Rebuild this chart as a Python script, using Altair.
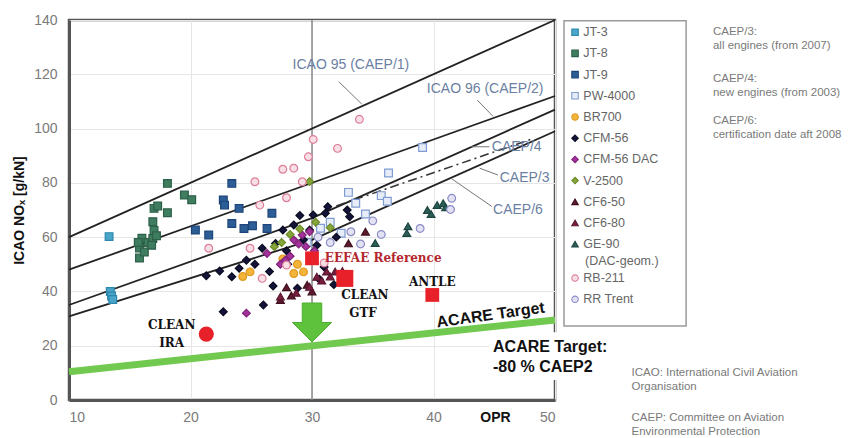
import altair as alt
import pandas as pd

# ---------------- data ----------------
engines = ["JT-3", "JT-8", "JT-9", "PW-4000", "BR700", "CFM-56", "CFM-56 DAC",
           "V-2500", "CF6-50", "CF6-80", "GE-90", "RB-211", "RR Trent"]
shapes = ["square", "square", "square", "square", "circle", "diamond", "diamond",
          "diamond", "triangle-up", "triangle-up", "triangle-up", "circle", "circle"]
fills = ["#4aa6c9", "#3f7d60", "#2d5d96", "#e6ecf8", "#f2b53a", "#14143a", "#a3339b",
         "#86a53a", "#5e1a2c", "#7b1f3e", "#2b5f58", "#f8dfe6", "#e2e2f4"]
strokes = ["#2f86ad", "#2d6048", "#1d4478", "#7f9bd1", "#e09a20", "#0a0a20", "#80207a",
           "#6a8a25", "#3e0f1c", "#5a1530", "#1d4540", "#dd7e98", "#8b8bc6"]
sizes = [60, 60, 60, 60, 55, 45, 45, 45, 45, 45, 45, 60, 60]

series = {
    "JT-3": ([13.3, 13.4, 13.5, 13.6], [60.2, 40.0, 38.3, 37.0]),
    "JT-8": ([18.1, 19.5, 20.1, 17.0, 17.3, 18.1, 16.9, 17.0, 16.0, 16.5, 15.8, 16.9, 15.8, 16.8, 16.2, 15.7, 17.2],
             [79.8, 75.5, 73.8, 70.6, 71.5, 69.0, 65.7, 62.5, 59.6, 58.0, 56.0, 59.5, 52.3, 57.0, 54.5, 58.0, 60.5]),
    "JT-9": ([23.4, 22.7, 22.8, 24.0, 26.7, 23.4, 24.4, 26.3, 20.4, 21.5, 25.1],
             [79.8, 73.7, 71.8, 70.6, 68.8, 65.0, 63.2, 63.2, 62.6, 60.8, 64.2]),
    "PW-4000": ([39.1, 36.3, 33.0, 35.7, 36.2, 32.4, 30.7, 31.5, 29.6, 34.4, 33.6],
                [93.0, 83.6, 76.5, 75.3, 73.2, 61.4, 63.3, 65.5, 58.0, 68.5, 72.5]),
    "BR700": ([24.3, 24.9, 28.5, 29.3, 28.8, 27.6], [45.5, 47.2, 46.6, 47.2, 50.0, 52.0]),
    "CFM-56": ([21.3, 22.4, 22.7, 23.4, 24.0, 24.6, 25.9, 26.0, 26.5, 27.0, 27.6, 28.5, 28.8, 29.0, 30.1,
                31.3, 31.1, 32.9, 33.1, 29.8, 25.3, 27.9, 29.3, 30.4, 31.8, 30.6, 32.0, 28.0, 26.8, 31.0],
               [45.8, 47.5, 32.5, 45.4, 48.5, 51.5, 55.9, 35.0, 47.3, 57.7, 62.6, 64.5, 41.2, 68.0, 68.2,
                71.2, 68.8, 70.0, 67.5, 62.6, 50.0, 55.0, 59.0, 57.0, 42.5, 44.5, 60.0, 50.0, 42.0, 49.0]),
    "CFM-56 DAC": ([24.6, 27.8, 28.5, 29.2, 28.2, 29.5, 27.4, 30.2, 26.3, 29.8, 28.9],
                   [32.0, 51.5, 59.0, 60.8, 53.0, 56.5, 50.0, 55.0, 54.0, 62.0, 57.5]),
    "V-2500": ([26.9, 29.8, 27.5, 29.0, 30.3, 28.2, 31.5], [56.5, 80.5, 58.0, 63.0, 65.5, 61.0, 63.5]),
    "CF6-50": ([34.4, 33.0, 27.4, 27.9, 29.6, 28.3, 30.0], [62.0, 57.7, 36.8, 41.5, 42.4, 38.5, 40.0]),
    "CF6-80": ([30.4, 31.2, 31.9, 27.4, 29.8, 30.8, 28.7, 31.5, 32.5], [45.4, 47.3, 47.3, 38.1, 41.7, 44.0, 39.5, 45.5, 47.5]),
    "GE-90": ([39.5, 40.3, 40.8, 39.8, 37.9, 37.8, 35.2, 41.0], [70.0, 71.8, 72.5, 68.5, 64.0, 61.5, 57.8, 71.0]),
    "RB-211": ([33.9, 30.1, 32.1, 29.7, 27.6, 28.5, 29.2, 25.3, 27.9, 25.7, 21.5, 24.9, 25.9, 27.9, 31.0],
               [103.4, 96.0, 92.7, 89.6, 85.0, 85.4, 80.4, 80.4, 74.5, 71.8, 55.9, 55.9, 44.8, 49.7, 50.5]),
    "RR Trent": ([41.5, 41.4, 38.9, 35.7, 34.0, 33.2, 31.5, 30.5, 35.0], [74.3, 70.2, 63.2, 61.0, 57.5, 62.0, 58.0, 60.0, 66.0]),
}

# regulatory limits (OPR, NOx)
std_names = ["CAEP/1", "CAEP/2", "CAEP/4", "CAEP/6"]
std_opr = [[10, 50], [10, 50], [10, 30, 50], [10, 30, 50]]
std_nox = [[60, 140], [48, 112], [35, 67, 107], [30.8, 59, 99]]
dash_opr = [32, 48]
dash_nox = [71.5, 96]
acare_opr = [10, 50]
acare_nox = [10.4, 29.5]

# technology programmes
red_names = ["CLEAN IRA", "EEFAE", "CLEAN GTF", "ANTLE"]
red_opr = [21.3, 30.0, 32.7, 39.9]
red_nox = [24.3, 52.2, 44.8, 38.7]

# annotation texts
line_lbl = ["ICAO 95 (CAEP/1)", "ICAO 96 (CAEP/2)", "CAEP/4", "CAEP/3", "CAEP/6"]
line_lbl_x = [28.4, 39.45, 44.8, 45.45, 44.9]
line_lbl_y = [123.4, 114.6, 93.2, 81.8, 70.0]
lead_x1 = [32.2, 43.6, 43.1, 43.8, 41.5]
lead_y1 = [117.3, 110.5, 93.3, 85.4, 81.5]
lead_x2 = [34.1, 44.9, 44.6, 45.3, 44.8]
lead_y2 = [109.0, 104.5, 93.3, 82.9, 71.3]

prog_lbl = ["CLEAN", "IRA", "CLEAN", "GTF", "ANTLE"]
prog_x = [18.45, 18.45, 34.35, 34.2, 39.9]
prog_y = [27.6, 20.9, 38.7, 31.9, 43.6]

notes_r = ["CAEP/3:", "all engines (from 2007)", "CAEP/4:", "new engines (from 2003)",
           "CAEP/6:", "certification date aft 2008"]
notes_r_y = [135.6, 130.5, 118.3, 113.1, 102.8, 97.6]
notes_b = ["ICAO: International Civil Aviation", "Organisation",
           "CAEP: Committee on Aviation", "Environmental Protection"]
notes_b_y = [9.9, 4.8, -6.7, -11.8]

# ---------------- frames ----------------
pts = pd.DataFrame([(e, x, y) for e, (xs_, ys_) in series.items() for x, y in zip(xs_, ys_)],
                   columns=["engine", "opr", "nox"])
lines = pd.DataFrame([(n, x, y) for n, xl, yl in zip(std_names, std_opr, std_nox) for x, y in zip(xl, yl)],
                     columns=["std", "opr", "nox"])
dash = pd.DataFrame({"opr": dash_opr, "nox": dash_nox})
acare = pd.DataFrame({"opr": acare_opr, "nox": acare_nox})
red = pd.DataFrame({"name": red_names, "opr": red_opr, "nox": red_nox})
lbl = pd.DataFrame({"t": line_lbl, "opr": line_lbl_x, "nox": line_lbl_y})
lead = pd.DataFrame({"x1": lead_x1, "y1": lead_y1, "x2": lead_x2, "y2": lead_y2})
prog = pd.DataFrame({"t": prog_lbl, "opr": prog_x, "nox": prog_y})

leg = pd.DataFrame({"engine": engines})
leg["slot"] = [i + (0.6 if i > 10 else 0.0) for i in range(len(engines))]
leg["label"] = engines

# ---------------- scales / axes ----------------
xs = alt.Scale(domain=[10, 50], nice=False, zero=False)
ys = alt.Scale(domain=[0, 140], nice=False, zero=False)
xaxis = alt.Axis(values=[10, 20, 30, 40, 50], title=None, ticks=False, labelPadding=10,
                 labelFontSize=14, labelColor="#7a7a7a", labelFont="Liberation Sans",
                 domainColor="#555", domainWidth=3, gridColor="#e6e6e6", gridWidth=1)
yaxis = alt.Axis(values=list(range(0, 141, 20)), title="ICAO NOₓ  [g/kN]", ticks=False,
                 labelPadding=12, labelFontSize=14, labelColor="#7a7a7a", labelFont="Liberation Sans",
                 titleFont="Liberation Sans", titleFontSize=14, titleFontWeight="bold",
                 titleColor="#111", titlePadding=7, domainColor="#555", domainWidth=3,
                 gridColor="#e6e6e6", gridWidth=1)


def X(f):
    return alt.X(f, type="quantitative", scale=xs, axis=xaxis)


def Y(f):
    return alt.Y(f, type="quantitative", scale=ys, axis=yaxis)


shape_enc = alt.Shape("engine:N", scale=alt.Scale(domain=engines, range=shapes), legend=None)
fill_enc = alt.Fill("engine:N", scale=alt.Scale(domain=engines, range=fills), legend=None)
stroke_enc = alt.Stroke("engine:N", scale=alt.Scale(domain=engines, range=strokes), legend=None)

# ---------------- layers ----------------
rule30 = alt.Chart(pd.DataFrame({"v": [30]})).mark_rule(color="#8a8a8a", strokeWidth=1.5).encode(x=X("v"))

std_lines = alt.Chart(lines).mark_line(color="#222", strokeWidth=1.8).encode(
    x=X("opr"), y=Y("nox"), detail="std:N")
dash_line = alt.Chart(dash).mark_line(color="#333", strokeWidth=1.5, strokeDash=[9, 4, 2, 4]).encode(
    x=X("opr"), y=Y("nox"))
leaders = alt.Chart(lead).mark_rule(color="#777", strokeWidth=1).encode(
    x=X("x1"), y=Y("y1"), x2="x2", y2="y2")
acare_line = alt.Chart(acare).mark_line(color="#72c94f", strokeWidth=7).encode(x=X("opr"), y=Y("nox"))

points = alt.Chart(pts).mark_point(filled=True, strokeWidth=1.2, opacity=1).encode(
    x=X("opr"), y=Y("nox"), shape=shape_enc, fill=fill_enc, stroke=stroke_enc,
    size=alt.Size("engine:N", scale=alt.Scale(domain=engines, range=sizes), legend=None))

red_circ = alt.Chart(red).transform_filter("datum.name == 'CLEAN IRA'").mark_point(
    shape="circle", filled=True, color="#e8202a", size=230, opacity=1).encode(x=X("opr"), y=Y("nox"))
red_sq = alt.Chart(red).transform_filter("datum.name == 'EEFAE' || datum.name == 'ANTLE'").mark_point(
    shape="square", filled=True, color="#e8202a", size=190, opacity=1).encode(x=X("opr"), y=Y("nox"))
red_gtf = alt.Chart(red).transform_filter("datum.name == 'CLEAN GTF'").mark_point(
    shape="square", filled=True, color="#e8202a", size=290, opacity=1).encode(x=X("opr"), y=Y("nox"))

arrow_path = "M -0.5 -1 L 0.5 -1 L 0.5 0 L 1 0 L 0 1 L -1 0 L -0.5 0 Z"
arrow = alt.Chart(pd.DataFrame({"opr": [30], "nox": [28.55]})).mark_point(
    shape=arrow_path, filled=True, fill="#5fc23c", stroke="#4caf2e", strokeWidth=1,
    size=1520, opacity=1).encode(x=X("opr"), y=Y("nox"))

white_box = alt.Chart(pd.DataFrame({"x1": [44.6], "x2": [57.5], "y1": [25.0], "y2": [7.4]})).mark_rect(
    fill="white").encode(x=X("x1"), x2="x2", y=Y("y1"), y2="y2")

line_text = alt.Chart(lbl).mark_text(align="left", baseline="middle", font="Liberation Sans",
                                     fontSize=14, color="#6b7fa3").encode(x=X("opr"), y=Y("nox"), text="t")
prog_text = alt.Chart(prog).mark_text(align="center", baseline="middle", font="DejaVu Serif",
                                      fontSize=12, fontWeight="bold", color="#111").encode(
    x=X("opr"), y=Y("nox"), text="t")
eefae_text = alt.Chart(pd.DataFrame({"t": ["EEFAE Reference"], "opr": [31.05], "nox": [52.3]})).mark_text(
    align="left", baseline="middle", font="DejaVu Serif", fontSize=12, fontWeight="bold",
    color="#b3262e").encode(x=X("opr"), y=Y("nox"), text="t")
acare_lbl = alt.Chart(pd.DataFrame({"t": ["ACARE Target"], "opr": [44.7], "nox": [31.3]})).mark_text(
    align="center", baseline="middle", font="Liberation Sans", fontSize=16, fontWeight="bold",
    color="#111", angle=352).encode(x=X("opr"), y=Y("nox"), text="t")
acare_goal = alt.Chart(pd.DataFrame({"t": ["ACARE Target:", "-80 % CAEP2"], "opr": [44.9, 44.9],
                                     "nox": [19.6, 12.3]})).mark_text(
    align="left", baseline="middle", font="Liberation Sans", fontSize=16, fontWeight="bold",
    color="#111").encode(x=X("opr"), y=Y("nox"), text="t")
opr_lbl = alt.Chart(pd.DataFrame({"t": ["OPR"], "opr": [45.1], "nox": [-6.8]})).mark_text(
    align="center", baseline="middle", font="Liberation Sans", fontSize=14, fontWeight="bold",
    color="#111").encode(x=X("opr"), y=Y("nox"), text="t")

notes_right = alt.Chart(pd.DataFrame({"t": notes_r, "nox": notes_r_y})).transform_calculate(
    opr="63.0").mark_text(align="left", baseline="middle", font="Liberation Sans", fontSize=11.5,
                          color="#7a7a7a").encode(x=X("opr"), y=Y("nox"), text="t")
notes_bottom = alt.Chart(pd.DataFrame({"t": notes_b, "nox": notes_b_y})).transform_calculate(
    opr="56.3").mark_text(align="left", baseline="middle", font="Liberation Sans", fontSize=11.5,
                          color="#7a7a7a").encode(x=X("opr"), y=Y("nox"), text="t")

# legend (drawn with the same shape / colour scales)
leg_box = alt.Chart(pd.DataFrame({"x1": [50.74], "x2": [60.79], "y1": [139.75], "y2": [27.27]})).mark_rect(
    fill="white", stroke="#9a9a9a", strokeWidth=1.5).encode(x=X("x1"), x2="x2", y=Y("y1"), y2="y2")
leg_base = alt.Chart(leg).transform_calculate(ly="135.5 - 7.81 * datum.slot", sx="51.65", tx="52.33")
leg_sym = leg_base.mark_point(filled=True, size=42, strokeWidth=1.1, opacity=1).encode(
    x=X("sx"), y=Y("ly"), shape=shape_enc, fill=fill_enc, stroke=stroke_enc)
leg_txt = leg_base.mark_text(align="left", baseline="middle", font="Liberation Sans", fontSize=12.5,
                             color="#666").encode(x=X("tx"), y=Y("ly"), text="label")
leg_extra = alt.Chart(pd.DataFrame({"t": ["(DAC-geom.)"], "opr": [52.47], "nox": [51.2]})).mark_text(
    align="left", baseline="middle", font="Liberation Sans", fontSize=12.5, color="#666").encode(
    x=X("opr"), y=Y("nox"), text="t")

chart = alt.layer(
    rule30, std_lines, dash_line, leaders, acare_line, points,
    red_circ, red_sq, red_gtf, arrow, white_box,
    line_text, prog_text, eefae_text, acare_lbl, acare_goal, opr_lbl,
    notes_right, notes_bottom, leg_box, leg_sym, leg_txt, leg_extra,
).properties(
    width=486, height=380,
    autosize=alt.AutoSizeParams(type="none"),
    padding={"left": 61, "top": 12, "right": 303, "bottom": 38},
).configure_view(stroke="#555", strokeWidth=2.5)

chart.save("out.html", embed_options={"renderer": "svg", "actions": False})
